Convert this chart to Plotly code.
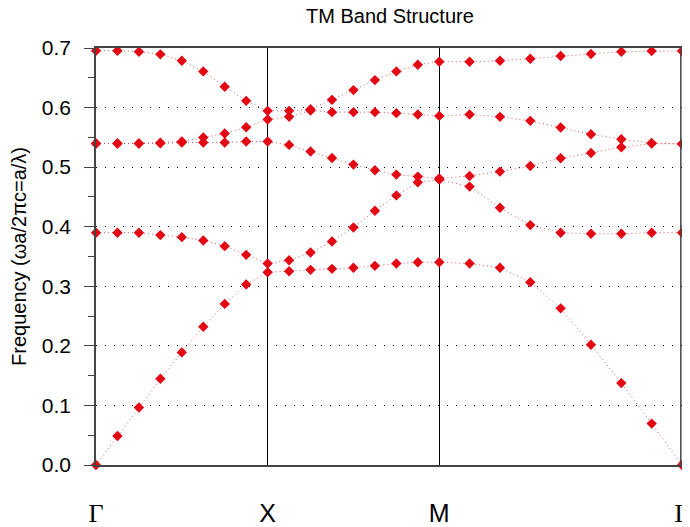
import numpy as np
import plotly.graph_objects as go

# high-symmetry path segments (Γ-X, X-M, M-Γ) and k-point steps per segment
segment_lengths = [0.5, 0.5, 0.7071]
steps_per_segment = 8
tick_labels = ["Γ", "X", "M", "Γ"]

# band frequencies (ωa/2πc) at the 25 k-points along Γ-X-M-Γ
band1 = [0.0, 0.0488, 0.0964, 0.1447, 0.189, 0.2322, 0.2704, 0.3029, 0.3236,
         0.3253, 0.3276, 0.3293, 0.331, 0.3343, 0.3382, 0.3404, 0.3404,
         0.3382, 0.331, 0.3068, 0.263, 0.2019, 0.1375, 0.0695, 0.0]
band2 = [0.3899, 0.3899, 0.3899, 0.3859, 0.3825, 0.3769, 0.3674, 0.3528, 0.3382,
         0.3438, 0.3567, 0.3752, 0.3988, 0.4269, 0.4526, 0.4745, 0.479,
         0.4673, 0.4319, 0.4027, 0.3899, 0.3882, 0.3882, 0.3899, 0.3899]
band3 = [0.5396, 0.5396, 0.5396, 0.540, 0.5413, 0.5413, 0.5413, 0.543, 0.543,
         0.5373, 0.5262, 0.5154, 0.5043, 0.4947, 0.4875, 0.4841, 0.4812,
         0.4851, 0.4925, 0.502, 0.5149, 0.5238, 0.5334, 0.5395, 0.539]
band4 = [0.5396, 0.5396, 0.5396, 0.541, 0.543, 0.5497, 0.5564, 0.567, 0.580,
         0.5844, 0.595, 0.5923, 0.5923, 0.5923, 0.5906, 0.5884, 0.586,
         0.5884, 0.5844, 0.5777, 0.5666, 0.5553, 0.5469, 0.5405, 0.539]
band5 = [0.6955, 0.6955, 0.6938, 0.6893, 0.6786, 0.6607, 0.6349, 0.6113, 0.5945,
         0.5945, 0.5973, 0.613, 0.6293, 0.6461, 0.6607, 0.6719, 0.677,
         0.677, 0.6786, 0.682, 0.6865, 0.6899, 0.6938, 0.695, 0.695]
bands = [band1, band2, band3, band4, band5]

# cumulative k-path distance (rounded so the path end is exact)
k = [0.0]
for L in segment_lengths:
    for i in range(steps_per_segment):
        k.append(round(k[-1] + L / steps_per_segment, 6))
tick_pos = k[::steps_per_segment]
k_end = k[-1]

fig = go.Figure()
for b in bands:
    fig.add_trace(go.Scatter(
        x=k, y=b, mode="lines+markers",
        line=dict(color="rgba(215,60,60,0.85)", width=1, dash="1px,3px"),
        marker=dict(symbol="diamond", size=8, color="#e30613",
                    line=dict(width=0)),
        cliponaxis=False, showlegend=False, hoverinfo="skip"))

serif = "font-family:'Liberation Serif','DejaVu Serif',serif;font-size:26px"
ticktext = [f'<span style="{serif}">{t}</span>' if t == "Γ" else t
            for t in tick_labels]

# right-hand frame line of the plot box (kept just inside the domain edge)
fig.add_shape(type="line", xref="x domain", yref="y domain", layer="above",
              x0=0.998, x1=0.998, y0=0, y1=1,
              line=dict(color="#444", width=1.5))

# the page body adds an 8px offset, so the figure is 8px smaller each way
fig.update_layout(
    width=682, height=519,
    margin=dict(l=88, r=8, t=40, b=62, autoexpand=False),
    paper_bgcolor="white", plot_bgcolor="white",
    font=dict(family="Liberation Sans, Arial, sans-serif", color="black"),
    title=dict(text="TM Band Structure", x=0.56, xanchor="center",
               y=0.999, yanchor="top",
               font=dict(size=20, color="black")),
    xaxis=dict(range=[0, k_end], tickvals=tick_pos, ticktext=ticktext,
               showgrid=True, gridcolor="black", gridwidth=1,
               showline=True, linecolor="#444", linewidth=1.5, mirror=True,
               ticks="", tickfont=dict(size=25), ticklabelstandoff=25,
               ticklabeloverflow="allow",
               zeroline=False, automargin=False),
    yaxis=dict(range=[0, 0.7], tickvals=[0, 0.1, 0.2, 0.3, 0.4, 0.5, 0.6, 0.7],
               ticktext=["0.0", "0.1", "0.2", "0.3", "0.4", "0.5", "0.6", "0.7"],
               showgrid=True, gridcolor="black", gridwidth=1, griddash="1px,8px",
               showline=True, linecolor="#444", linewidth=1.5, mirror=True,
               ticks="outside", ticklen=10, tickcolor="#444", tickwidth=1,
               minor=dict(dtick=0.05, ticks="outside", ticklen=6,
                          tickcolor="#444", showgrid=False),
               tickfont=dict(size=21), ticklabelstandoff=9,
               zeroline=False, automargin=False,
               title=dict(text="Frequency (ωa/2πc=a/λ)", font=dict(size=20),
                          standoff=10)),
)
fig.write_html("out.html")
